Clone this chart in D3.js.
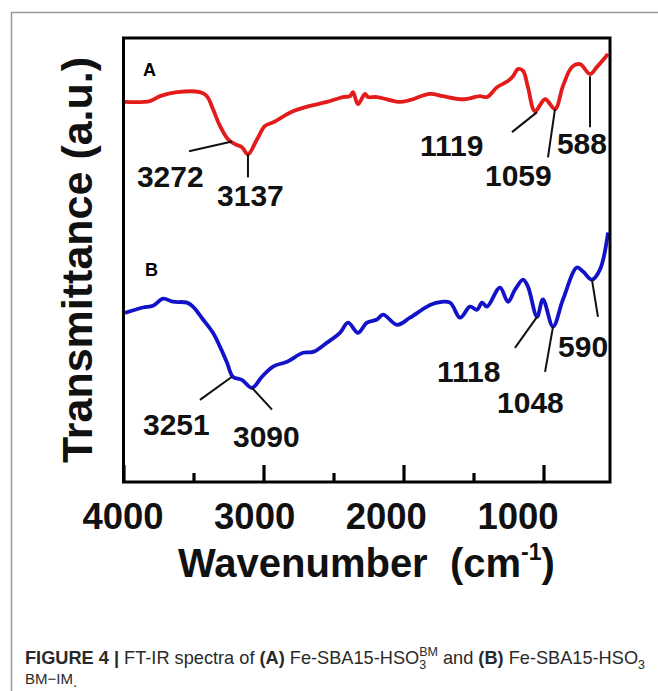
<!DOCTYPE html>
<html><head><meta charset="utf-8">
<script src="https://cdn.jsdelivr.net/npm/d3@7"></script>
<style>
html,body{margin:0;padding:0;background:#fff;}
svg{display:block;font-family:"Liberation Sans",Arial,Helvetica,sans-serif;}
</style></head>
<body>
<svg id="chart" width="658" height="691"></svg>
<script>
// ---- data (wavenumber cm-1, transmittance a.u.) ----
const waveA = [3990,3811,3739,3618,3454,3404,3361,3311,3254,3204,3154,3111,3046,2989,2932,2789,2668,2546,2432,2382,2361,2325,2275,2254,2189,2025,1954,1811,1718,1575,1454,1404,1332,1254,1218,1182,1146,1111,1061,989,918,861,796,739,668,618,539];
const transA = [85.6,85.8,86.9,87.8,87.8,86.9,84.0,80.2,77.2,76.1,75.4,73.8,77.2,80.2,81.0,83.5,84.7,85.6,86.7,86.9,87.8,85.1,87.4,86.7,86.7,85.6,86.0,87.4,86.9,86.2,86.9,86.7,88.9,90.3,91.4,93.0,92.6,88.9,83.5,86.2,84.0,89.2,93.5,94.1,91.9,93.5,96.4];
const waveB = [3989,3861,3789,3718,3646,3546,3504,3432,3361,3311,3261,3218,3154,3082,3011,2932,2832,2718,2646,2546,2454,2396,2325,2261,2189,2146,2046,1954,1832,1761,1668,1596,1525,1475,1439,1404,1311,1254,1204,1146,1111,1046,1004,932,861,761,718,654,596,539];
const transB = [38.1,39.3,39.7,41.3,40.6,40.4,39.5,36.6,33.6,30.5,26.9,23.7,23.0,21.2,23.7,26.0,27.1,29.1,29.3,31.4,33.6,35.9,33.6,35.9,36.6,37.7,35.4,37.0,39.5,40.4,40.4,37.0,39.5,38.8,40.4,39.5,43.8,40.6,43.3,45.6,44.0,37.2,41.1,35.0,41.1,48.3,47.4,45.6,47.9,56.2];

const majorTicks = [4000,3000,2000,1000];
const minorTicks = [3500,2500,1500];
const tickLabels = ["4000","3000","2000","1000"];

const seriesNames = ["A","B"];
const seriesNameWave = [3861,3846];
const seriesNameT = [91.4,46.3];

// peak annotations: label, leader line (from -> to), label anchor
const peakLabels = ["3272","3137","1119","1059","588","3251","3090","1118","1048","590"];
const leadW1 = [3532,3111,1225,968,668, 3454,3082,1204,989,654];
const leadT1 = [74.5,73.8,78.8,73.1,91.4, 18.5,21.2,30.2,24.8,45.6];
const leadW2 = [3225,3111,1046,918,668, 3225,2939,1046,932,611];
const leadT2 = [76.7,68.6,83.3,84.0,79.9, 23.7,16.3,37.2,35.0,37.2];
const labelW = [3904,3332,1882,1418,904, 3861,3218,1761,1332,896];
const labelT = [66.4,62.1,73.4,66.6,73.8, 10.6,7.9,22.6,15.6,28.2];

// ---- layout ----
const svg = d3.select("#chart");
const pLeft = 123.5, pRight = 610, pTop = 38, pBottom = 482;

const x = d3.scaleLinear().domain([4000, 525]).range([pLeft, pRight]);
const y = d3.scaleLinear().domain([0, 100]).range([pBottom, pTop]);
const xLabel = d3.scaleLinear().domain([4000, 1000]).range([123, 518]);

// outer figure border
svg.append("rect").attr("x", 11.5).attr("y", 12.5).attr("width", 720).attr("height", 720)
  .attr("fill", "none").attr("stroke", "#9a9a9a").attr("stroke-width", 1.5);

// curves
const line = d3.line().x(d => x(d[0])).y(d => y(d[1])).curve(d3.curveCatmullRom.alpha(0.5));
svg.append("path").datum(d3.zip(waveA, transA)).attr("d", line)
  .attr("fill", "none").attr("stroke", "#e31b1b").attr("stroke-width", 3.8).attr("stroke-linejoin", "round");
svg.append("path").datum(d3.zip(waveB, transB)).attr("d", line)
  .attr("fill", "none").attr("stroke", "#1212c8").attr("stroke-width", 3.8).attr("stroke-linejoin", "round");

// frame
svg.append("rect").attr("x", pLeft).attr("y", pTop).attr("width", pRight - pLeft).attr("height", pBottom - pTop)
  .attr("fill", "none").attr("stroke", "#000").attr("stroke-width", 3);

// ticks (inward)
const major = svg.append("g").attr("transform", `translate(0,${pBottom})`)
  .call(d3.axisBottom(x).tickValues(majorTicks).tickSize(-17).tickFormat(""));
const minor = svg.append("g").attr("transform", `translate(0,${pBottom})`)
  .call(d3.axisBottom(x).tickValues(minorTicks).tickSize(-9).tickFormat(""));
[major, minor].forEach(g => {
  g.select(".domain").remove();
  g.selectAll(".tick line").attr("stroke", "#000").attr("stroke-width", 3.2);
});

// tick labels
svg.append("g").selectAll("text").data(majorTicks).join("text")
  .attr("x", d => xLabel(d)).attr("y", 529).attr("text-anchor", "middle")
  .attr("font-size", 36.5).attr("font-weight", "bold").attr("fill", "#111")
  .text((d, i) => tickLabels[i]);

// axis titles
const xt = svg.append("text").attr("x", 178).attr("y", 577).attr("font-size", 40)
  .attr("font-weight", "bold").attr("fill", "#111");
xt.append("tspan").text("Wavenumber\u00a0\u00a0(cm");
xt.append("tspan").attr("font-size", 23).attr("dy", -17).text("-1");
xt.append("tspan").attr("dy", 17).text(")");

svg.append("text").attr("transform", "translate(92,260) rotate(-90)")
  .attr("text-anchor", "middle").attr("font-size", 43).attr("font-weight", "bold")
  .attr("fill", "#111").text("Transmittance (a.u.)");

// series letters
svg.append("g").selectAll("text").data(seriesNames).join("text")
  .attr("x", (d, i) => x(seriesNameWave[i])).attr("y", (d, i) => y(seriesNameT[i]))
  .attr("font-size", 18).attr("font-weight", "bold").attr("fill", "#000").text(d => d);

// peak leader lines and labels
const ann = svg.append("g");
ann.selectAll("line").data(peakLabels).join("line")
  .attr("x1", (d, i) => x(leadW1[i])).attr("y1", (d, i) => y(leadT1[i]))
  .attr("x2", (d, i) => x(leadW2[i])).attr("y2", (d, i) => y(leadT2[i]))
  .attr("stroke", "#111").attr("stroke-width", 2);
ann.selectAll("text").data(peakLabels).join("text")
  .attr("x", (d, i) => x(labelW[i])).attr("y", (d, i) => y(labelT[i]))
  .attr("font-size", 30).attr("font-weight", "bold").attr("fill", "#111").text(d => d);

// caption
const cap = svg.append("text").attr("x", 25).attr("y", 664).attr("font-size", 18.2).attr("fill", "#2a2a2a");
cap.append("tspan").attr("font-weight", "bold").text("FIGURE 4 | ");
cap.append("tspan").text("FT-IR spectra of ");
cap.append("tspan").attr("font-weight", "bold").text("(A)");
cap.append("tspan").text(" Fe-SBA15-HSO");
cap.append("tspan").attr("font-size", 12.5).attr("dy", 5).text("3");
cap.append("tspan").attr("font-size", 12.5).attr("dx", -7).attr("dy", -13).text("BM");
cap.append("tspan").attr("dy", 8).text(" and ");
cap.append("tspan").attr("font-weight", "bold").text("(B)");
cap.append("tspan").text(" Fe-SBA15-HSO");
cap.append("tspan").attr("font-size", 12.5).attr("dy", 5).text("3");
const cap2 = svg.append("text").attr("x", 25).attr("y", 684).attr("font-size", 15).attr("fill", "#2a2a2a");
cap2.append("tspan").text("BM\u2212IM");
cap2.append("tspan").attr("dy", 3).text(".");
</script>
</body></html>
